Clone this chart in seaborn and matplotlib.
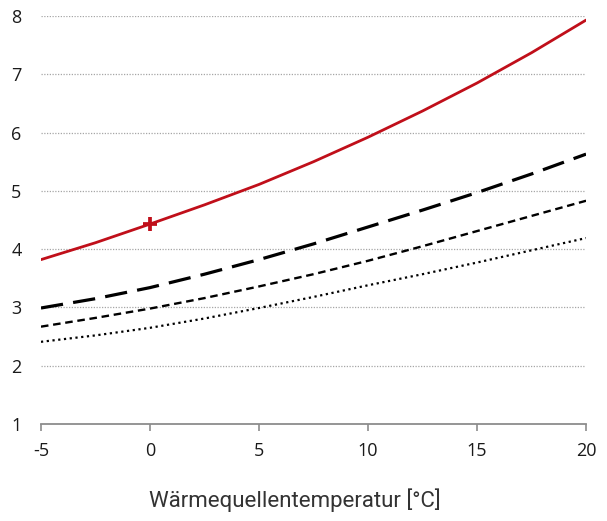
import numpy as np
import pandas as pd
import seaborn as sns
import matplotlib.pyplot as plt

# Werte
temp = [-5, -2.5, 0, 2.5, 5, 7.5, 10, 12.5, 15, 17.5, 20]
cop_rot = [3.82, 4.11, 4.43, 4.76, 5.11, 5.50, 5.92, 6.37, 6.85, 7.37, 7.93]
cop_lang = [2.99, 3.15, 3.34, 3.57, 3.82, 4.09, 4.38, 4.67, 4.97, 5.29, 5.63]
cop_kurz = [2.67, 2.82, 2.98, 3.16, 3.36, 3.57, 3.80, 4.05, 4.31, 4.57, 4.83]
cop_punkt = [2.41, 2.52, 2.65, 2.81, 2.99, 3.18, 3.38, 3.57, 3.77, 3.98, 4.19]
punkt_x = [0]
punkt_y = [4.43]
y_ticks = [1, 2, 3, 4, 5, 6, 7, 8]
x_ticks = [-5, 0, 5, 10, 15, 20]

sns.set_style("white")
plt.rcParams["font.family"] = ["Open Sans", "DejaVu Sans"]

fig = plt.figure(figsize=(6.07, 5.21), dpi=100)
ax = fig.add_axes([0.0675, 0.1862, 0.898, 0.7831])

for yv in y_ticks[1:]:
    ax.axhline(yv, color="#a6a6a6", lw=0.9, ls=(0, (1, 1.2)), zorder=0)

df = pd.DataFrame({"T": temp, "rot": cop_rot, "lang": cop_lang,
                   "kurz": cop_kurz, "punkt": cop_punkt})

sns.lineplot(data=df, x="T", y="punkt", ax=ax, color="black", lw=1.6,
             ls=(0, (1, 1.6)))
sns.lineplot(data=df, x="T", y="kurz", ax=ax, color="black", lw=1.7,
             ls=(0, (3.2, 2.0)))
sns.lineplot(data=df, x="T", y="lang", ax=ax, color="black", lw=2.3,
             ls=(0, (7.0, 3.2)))
sns.lineplot(data=df, x="T", y="rot", ax=ax, color="#c00f1a", lw=2.0)
ax.plot(punkt_x, punkt_y, marker="+", color="#c00f1a", ms=10, mew=2.7,
        ls="none", zorder=5)

ax.set_xlim(-5, 20)
ax.set_ylim(1, 8)
ax.set_xticks(x_ticks)
ax.set_yticks(y_ticks)
ax.set_xticklabels([str(v) for v in x_ticks], fontsize=13, color="#1a1a1a")
ax.set_yticklabels([str(v) for v in y_ticks], fontsize=13, color="#1a1a1a")

for s in ["top", "right", "left"]:
    ax.spines[s].set_visible(False)
ax.spines["bottom"].set_color("#8c8c8c")
ax.spines["bottom"].set_linewidth(1.3)
ax.tick_params(axis="x", direction="out", length=5, width=1.2,
               color="#8c8c8c", pad=8, bottom=True)
ax.tick_params(axis="y", length=0, pad=14)

ax.set_xlabel("Wärmequellentemperatur [°C]", fontsize=16,
              family=["Roboto", "DejaVu Sans"], fontweight="normal",
              color="#333333")
ax.set_ylabel("")
ax.xaxis.set_label_coords(0.465, -0.158)

fig.savefig("out.png", dpi=100)
